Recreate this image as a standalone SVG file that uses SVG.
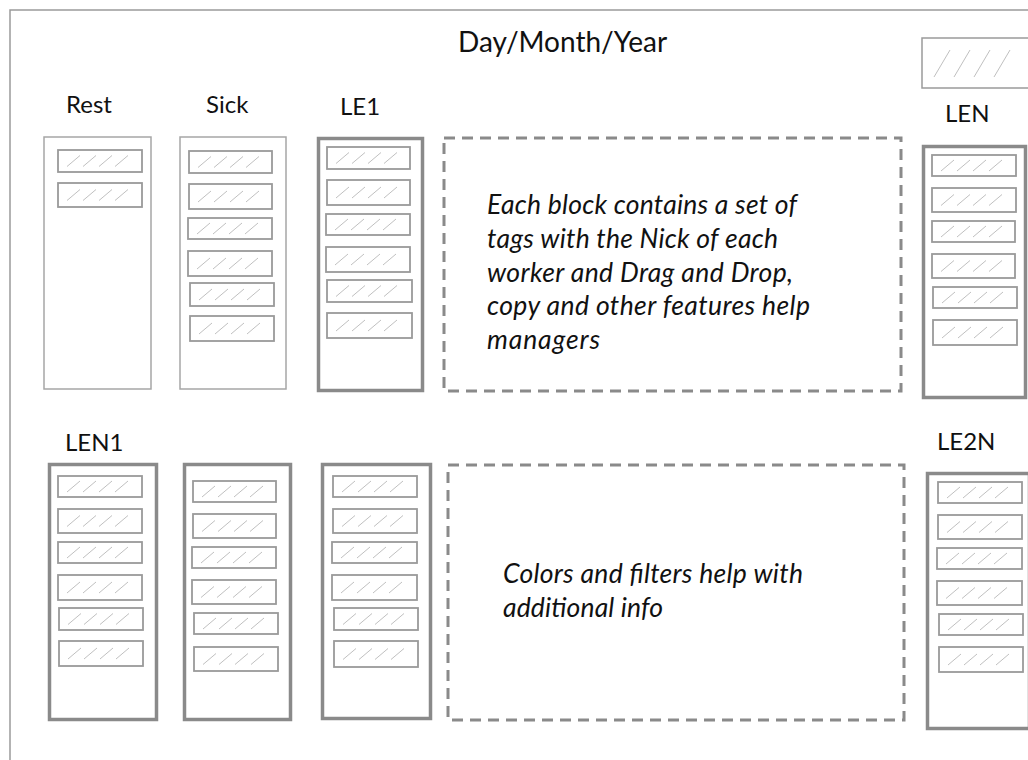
<svg xmlns="http://www.w3.org/2000/svg" xmlns:xlink="http://www.w3.org/1999/xlink" width="1028" height="760" viewBox="0 0 1028 760">
<style>
.frame{fill:none;stroke:#9a9a9a;stroke-width:1.5}
.thin{fill:#fff;stroke:#a6a6a6;stroke-width:1.5}
.thick{fill:#fff;stroke:#8a8a8a;stroke-width:3.5}
.tag{fill:#fff;stroke:#9a9a9a;stroke-width:1.8}
.hl{stroke:#c0c0c0;stroke-width:1;fill:none}
.dash{fill:none;stroke:#8a8a8a;stroke-width:3;stroke-dasharray:11 7}
.lbl{font-family:Lato,"Liberation Sans",sans-serif;font-size:24px;fill:#111}
.ttl{font-family:Lato,"Liberation Sans",sans-serif;font-size:28px;fill:#111}
.it{font-family:Lato,"Liberation Sans",sans-serif;font-style:italic;font-size:26.5px;fill:#111}
</style>
<defs>
<g id="hatch" class="hl">
<line x1="9" y1="5.5" x2="22" y2="-5.5"/>
<line x1="25" y1="5.5" x2="38" y2="-5.5"/>
<line x1="41" y1="5.5" x2="54" y2="-5.5"/>
<line x1="57" y1="5.5" x2="70" y2="-5.5"/>
</g>
</defs>
<rect width="1028" height="760" fill="#fff"/>
<g id="frame">
<polyline class="frame" points="10,760 10,10 1028,10"/>
</g>
<g id="title">
<text class="ttl" x="458" y="52">Day/Month/Year</text>
</g>
<g id="legend-tag">
<rect x="922" y="38" width="110" height="50" fill="#fff" stroke="#9a9a9a" stroke-width="1.5"/>
<g class="hl">
<line x1="934" y1="77" x2="950" y2="50"/>
<line x1="954" y1="77" x2="970" y2="50"/>
<line x1="974" y1="77" x2="990" y2="50"/>
<line x1="994" y1="77" x2="1010" y2="50"/>
</g>
</g>
<g id="rest">
<text class="lbl" x="66" y="113">Rest</text>
<rect class="thin" x="44" y="137" width="107" height="252"/>
<rect class="tag" x="58" y="150" width="84" height="22"/><use xlink:href="#hatch" x="58" y="161"/>
<rect class="tag" x="58" y="183" width="84" height="24"/><use xlink:href="#hatch" x="58" y="195"/>
</g>
<g id="sick">
<text class="lbl" x="206" y="113">Sick</text>
<rect class="thin" x="180" y="137" width="106" height="252"/>
<rect class="tag" x="189" y="151" width="83" height="22"/><use xlink:href="#hatch" x="189" y="162"/>
<rect class="tag" x="189" y="184" width="83" height="25"/><use xlink:href="#hatch" x="189" y="196.5"/>
<rect class="tag" x="188" y="218" width="84" height="21"/><use xlink:href="#hatch" x="188" y="228.5"/>
<rect class="tag" x="188" y="251" width="84" height="25"/><use xlink:href="#hatch" x="188" y="263.5"/>
<rect class="tag" x="190" y="283" width="84" height="23"/><use xlink:href="#hatch" x="190" y="294.5"/>
<rect class="tag" x="190" y="316" width="84" height="25"/><use xlink:href="#hatch" x="190" y="328.5"/>
</g>
<g id="le1">
<text class="lbl" x="340" y="115">LE1</text>
<rect class="thick" x="318.5" y="138.5" width="104" height="252"/>
<rect class="tag" x="327" y="147" width="83" height="22"/><use xlink:href="#hatch" x="327" y="158"/>
<rect class="tag" x="327" y="180" width="83" height="25"/><use xlink:href="#hatch" x="327" y="192.5"/>
<rect class="tag" x="326" y="214" width="84" height="21"/><use xlink:href="#hatch" x="326" y="224.5"/>
<rect class="tag" x="326" y="247" width="84" height="25"/><use xlink:href="#hatch" x="326" y="259.5"/>
<rect class="tag" x="327" y="280" width="85" height="22"/><use xlink:href="#hatch" x="327" y="291"/>
<rect class="tag" x="327" y="313" width="85" height="25"/><use xlink:href="#hatch" x="327" y="325.5"/>
</g>
<g id="note-top">
<rect class="dash" x="444" y="138" width="457" height="253"/>
<text class="it" x="487" y="214" textLength="310">Each block contains a set of</text>
<text class="it" x="487" y="248" textLength="291">tags with the Nick of each</text>
<text class="it" x="487" y="282" textLength="306">worker and Drag and Drop,</text>
<text class="it" x="487" y="315" textLength="323">copy and other features help</text>
<text class="it" x="487" y="349" textLength="113">managers</text>
</g>
<g id="len">
<text class="lbl" x="945" y="122">LEN</text>
<rect class="thick" x="923.5" y="146.5" width="102" height="251"/>
<rect class="tag" x="932" y="155" width="84" height="21"/><use xlink:href="#hatch" x="932" y="165.5"/>
<rect class="tag" x="932" y="188" width="84" height="24"/><use xlink:href="#hatch" x="932" y="200"/>
<rect class="tag" x="932" y="221" width="83" height="21"/><use xlink:href="#hatch" x="932" y="231.5"/>
<rect class="tag" x="932" y="254" width="83" height="24"/><use xlink:href="#hatch" x="932" y="266"/>
<rect class="tag" x="933" y="287" width="84" height="21"/><use xlink:href="#hatch" x="933" y="297.5"/>
<rect class="tag" x="933" y="320" width="84" height="25"/><use xlink:href="#hatch" x="933" y="332.5"/>
</g>
<g id="len1">
<text class="lbl" x="65" y="451">LEN1</text>
<rect class="thick" x="49.5" y="464.5" width="107" height="255"/>
<rect class="tag" x="58" y="476" width="84" height="21"/><use xlink:href="#hatch" x="58" y="486.5"/>
<rect class="tag" x="58" y="509" width="84" height="24"/><use xlink:href="#hatch" x="58" y="521"/>
<rect class="tag" x="58" y="542" width="84" height="21"/><use xlink:href="#hatch" x="58" y="552.5"/>
<rect class="tag" x="58" y="575" width="84" height="25"/><use xlink:href="#hatch" x="58" y="587.5"/>
<rect class="tag" x="59" y="608" width="84" height="22"/><use xlink:href="#hatch" x="59" y="619"/>
<rect class="tag" x="59" y="641" width="84" height="25"/><use xlink:href="#hatch" x="59" y="653.5"/>
</g>
<g id="block-b2">
<rect class="thick" x="184.5" y="464.5" width="106" height="255"/>
<rect class="tag" x="193" y="481" width="83" height="21"/><use xlink:href="#hatch" x="193" y="491.5"/>
<rect class="tag" x="193" y="514" width="83" height="24"/><use xlink:href="#hatch" x="193" y="526"/>
<rect class="tag" x="192" y="547" width="84" height="21"/><use xlink:href="#hatch" x="192" y="557.5"/>
<rect class="tag" x="192" y="580" width="84" height="24"/><use xlink:href="#hatch" x="192" y="592"/>
<rect class="tag" x="194" y="613" width="84" height="21"/><use xlink:href="#hatch" x="194" y="623.5"/>
<rect class="tag" x="194" y="647" width="84" height="24"/><use xlink:href="#hatch" x="194" y="659"/>
</g>
<g id="block-b3">
<rect class="thick" x="322.5" y="464.5" width="108" height="254"/>
<rect class="tag" x="333" y="476" width="84" height="21"/><use xlink:href="#hatch" x="333" y="486.5"/>
<rect class="tag" x="333" y="509" width="84" height="24"/><use xlink:href="#hatch" x="333" y="521"/>
<rect class="tag" x="332" y="542" width="85" height="21"/><use xlink:href="#hatch" x="332" y="552.5"/>
<rect class="tag" x="332" y="575" width="85" height="25"/><use xlink:href="#hatch" x="332" y="587.5"/>
<rect class="tag" x="334" y="608" width="84" height="22"/><use xlink:href="#hatch" x="334" y="619"/>
<rect class="tag" x="334" y="641" width="84" height="26"/><use xlink:href="#hatch" x="334" y="654"/>
</g>
<g id="note-bottom">
<rect class="dash" x="448" y="465" width="456" height="255"/>
<text class="it" x="503" y="583" textLength="300">Colors and filters help with</text>
<text class="it" x="503" y="617" textLength="160">additional info</text>
</g>
<g id="le2n">
<text class="lbl" x="937" y="450">LE2N</text>
<rect class="thick" x="927.5" y="473.5" width="102" height="255"/>
<rect class="tag" x="938" y="482" width="84" height="21"/><use xlink:href="#hatch" x="938" y="492.5"/>
<rect class="tag" x="938" y="515" width="84" height="24"/><use xlink:href="#hatch" x="938" y="527"/>
<rect class="tag" x="937" y="548" width="85" height="21"/><use xlink:href="#hatch" x="937" y="558.5"/>
<rect class="tag" x="937" y="581" width="85" height="24"/><use xlink:href="#hatch" x="937" y="593"/>
<rect class="tag" x="939" y="614" width="84" height="21"/><use xlink:href="#hatch" x="939" y="624.5"/>
<rect class="tag" x="939" y="647" width="84" height="25"/><use xlink:href="#hatch" x="939" y="659.5"/>
</g>
<g id="connectors"/>
</svg>
